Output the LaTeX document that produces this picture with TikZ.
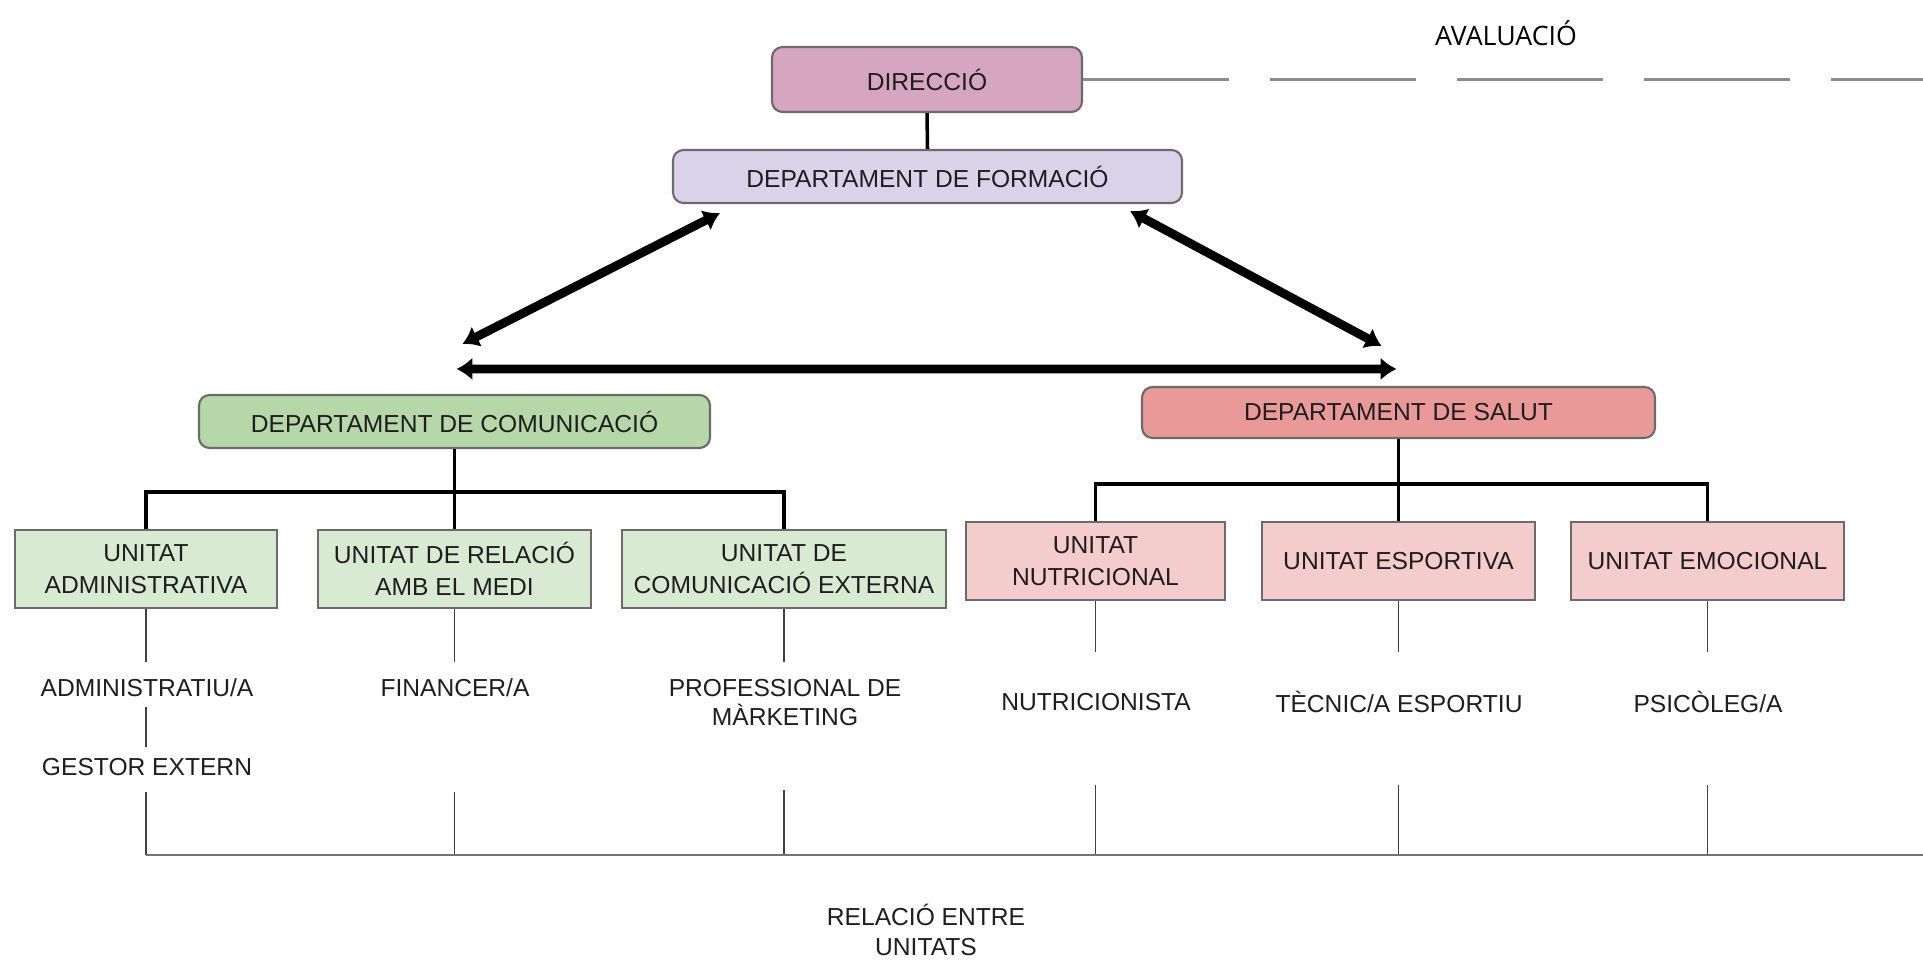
\documentclass[tikz,border=0pt]{standalone}
\usepackage{fontspec}
\setmainfont{Liberation Sans}
\newfontfamily\avalfont{Open Sans}
\usetikzlibrary{positioning,arrows.meta}
\tikzset{>={Latex[length=4.5pt,width=6.5pt]}}
\definecolor{dircol}{HTML}{D6A5BF}
\definecolor{formcol}{HTML}{D9D2E9}
\definecolor{comcol}{HTML}{B6D7A8}
\definecolor{salcol}{HTML}{EA9999}
\definecolor{ucomcol}{HTML}{D9EAD3}
\definecolor{usalcol}{HTML}{F4CCCC}
\definecolor{edgecol}{HTML}{6B6B6B}
\definecolor{txtcol}{HTML}{1E1E1E}
\tikzset{
  dept/.style={draw=edgecol, line width=0.6pt, rounded corners=3pt, text=txtcol,
    font=\fontsize{7}{9}\selectfont, inner sep=0pt, align=center},
  unitbox/.style={draw=edgecol, line width=0.6pt, text=txtcol,
    font=\fontsize{7}{9}\selectfont, inner sep=0pt, align=center, minimum height=0.78cm},
  role/.style={text=txtcol, font=\fontsize{7}{8.5}\selectfont, inner sep=0pt, align=center},
  aval/.style={font=\avalfont\fontsize{7.6}{9}\selectfont, inner sep=0pt},
  tree/.style={line width=1pt},
  thin/.style={draw=black!75, line width=0.45pt},
  base/.style={draw=black!55, line width=0.6pt},
  linkarrow/.style={<->, line width=2.5pt},
}

\begin{document}
\begin{tikzpicture}
\useasboundingbox (0,0) rectangle (19.23,-9.62);
% top of the chart
\node [aval] (aval) at (15.06,-0.33) {AVALUACIÓ};
\node [dept, fill=dircol, minimum width=3.10cm, minimum height=0.65cm] (dir) at (9.27,-0.795) {DIRECCIÓ};
\node [dept, fill=formcol, minimum width=5.09cm, minimum height=0.53cm] (form) at (9.275,-1.765) {DEPARTAMENT DE FORMACIÓ};
\coordinate (dend) at (19.23,-0.795);
\draw [draw=black!45, line width=0.9pt, dash pattern=on 1.46cm off 0.41cm] (dir.east) -- (dend);
\draw [tree] (dir.south) -- (form.north);

% departments
\node [dept, fill=comcol, minimum width=5.11cm, minimum height=0.53cm] (com) at (4.545,-4.215) {DEPARTAMENT DE COMUNICACIÓ};
\node [dept, fill=salcol, minimum width=5.13cm, minimum height=0.51cm] (sal) at (13.985,-4.125) {DEPARTAMENT DE SALUT};
\coordinate (fl) at ([xshift=0.48cm,yshift=-0.09cm]form.south west);
\coordinate (fr) at ([xshift=-0.53cm,yshift=-0.07cm]form.south east);
\coordinate (cl) at ([xshift=0.08cm,yshift=0.50cm]com.north);
\coordinate (cr) at ([xshift=-0.17cm,yshift=0.40cm]sal.north);
\coordinate (hl) at ([xshift=0.02cm,yshift=0.25cm]com.north);
\coordinate (hr) at ([xshift=-0.02cm,yshift=0.17cm]sal.north);
\draw [linkarrow] (fl) -- (cl);
\draw [linkarrow] (fr) -- (cr);
\draw [linkarrow] (hl) -- (hr);

% units
\node [unitbox, fill=ucomcol, minimum width=2.62cm] (uadm) at (1.46,-5.69) {UNITAT\\ADMINISTRATIVA};
\node [unitbox, fill=ucomcol, minimum width=2.73cm] (urel) at (4.545,-5.69) {UNITAT DE RELACIÓ\\AMB EL MEDI};
\node [unitbox, fill=ucomcol, minimum width=3.24cm] (uext) at (7.84,-5.69) {UNITAT DE\\COMUNICACIÓ EXTERNA};
\node [unitbox, fill=usalcol, minimum width=2.59cm] (unut) at (10.955,-5.61) {UNITAT\\NUTRICIONAL};
\node [unitbox, fill=usalcol, minimum width=2.73cm] (uesp) at (13.985,-5.61) {UNITAT ESPORTIVA};
\node [unitbox, fill=usalcol, minimum width=2.73cm] (uemo) at (17.075,-5.61) {UNITAT EMOCIONAL};
\draw [tree] (com.south) -- (urel.north);
\draw [tree] (uadm.north) |- ([yshift=0.37cm]urel.north) -| (uext.north);
\draw [tree] (sal.south) -- (uesp.north);
\draw [tree] (unut.north) |- ([yshift=0.37cm]uesp.north) -| (uemo.north);

% roles
\node [role] (radm) at (1.47,-6.88) {ADMINISTRATIU/A};
\node [role] (rges) at (1.47,-7.67) {GESTOR EXTERN};
\node [role] (rfin) at (4.55,-6.88) {FINANCER/A};
\node [role] (rmkt) at (7.85,-7.025) {PROFESSIONAL DE\\MÀRKETING};
\node [role] (rnut) at (10.96,-7.02) {NUTRICIONISTA};
\node [role] (resp) at (13.99,-7.02) {TÈCNIC/A ESPORTIU};
\node [role] (rpsi) at (17.08,-7.02) {PSICÒLEG/A};
\node [role] (rrel) at (9.26,-9.30) {RELACIÓ ENTRE\\UNITATS};

% thin lines
\coordinate (a1) at (1.46,-6.62);
\coordinate (a2) at (1.46,-7.07);
\coordinate (a3) at (1.46,-7.47);
\coordinate (a4) at (1.46,-7.92);
\coordinate (f1) at (4.545,-6.62);
\coordinate (f2) at (4.545,-7.92);
\coordinate (m1) at (7.84,-6.62);
\coordinate (m2) at (7.84,-7.90);
\coordinate (n1) at (10.955,-6.52);
\coordinate (n2) at (10.955,-7.85);
\coordinate (e1) at (13.985,-6.52);
\coordinate (e2) at (13.985,-7.85);
\coordinate (p1) at (17.075,-6.52);
\coordinate (p2) at (17.075,-7.85);
\coordinate (b1) at (1.46,-8.55);
\coordinate (b2) at (4.545,-8.55);
\coordinate (b3) at (7.84,-8.55);
\coordinate (b4) at (10.955,-8.55);
\coordinate (b5) at (13.985,-8.55);
\coordinate (b6) at (17.075,-8.55);
\coordinate (bend) at (19.23,-8.55);
\draw [thin] (uadm.south) -- (a1);
\draw [thin] (a2) -- (a3);
\draw [thin] (a4) -- (b1);
\draw [thin] (urel.south) -- (f1);
\draw [thin] (f2) -- (b2);
\draw [thin] (uext.south) -- (m1);
\draw [thin] (m2) -- (b3);
\draw [thin] (unut.south) -- (n1);
\draw [thin] (n2) -- (b4);
\draw [thin] (uesp.south) -- (e1);
\draw [thin] (e2) -- (b5);
\draw [thin] (uemo.south) -- (p1);
\draw [thin] (p2) -- (b6);
\draw [base] (b1) -- (bend);
\end{tikzpicture}
\end{document}
